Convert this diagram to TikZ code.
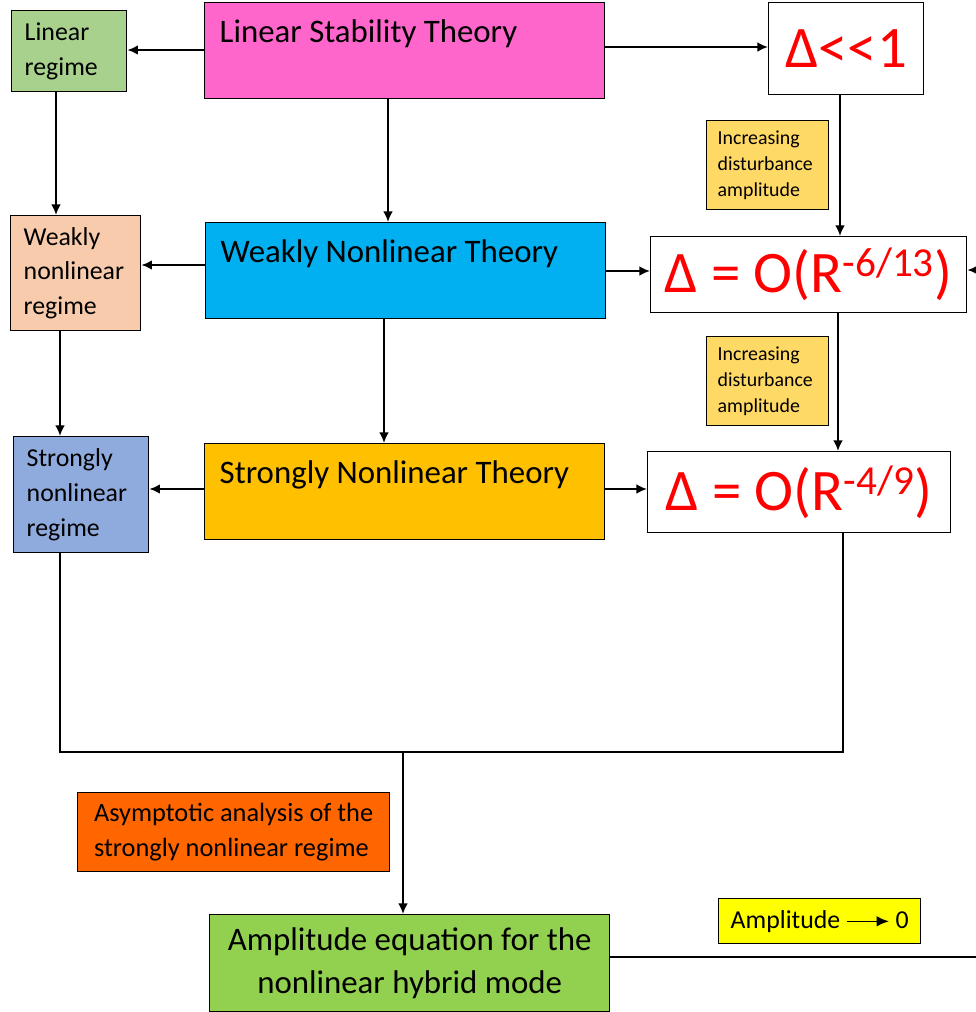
\documentclass[tikz,border=0pt]{standalone}
\usepackage{fontspec}
\setmainfont{Carlito}
\usepackage{tikz}
\usetikzlibrary{arrows.meta, positioning, calc}

\definecolor{lstpink}{HTML}{FF66CC}
\definecolor{wntblue}{HTML}{00B0F0}
\definecolor{sntorange}{HTML}{FFC000}
\definecolor{lingreen}{HTML}{A9D18E}
\definecolor{wnrpeach}{HTML}{F8CBAD}
\definecolor{snrblue}{HTML}{8FAADC}
\definecolor{incgold}{HTML}{FFD966}
\definecolor{asymorange}{HTML}{FF6600}
\definecolor{ampgreen}{HTML}{92D050}
\definecolor{ampyellow}{HTML}{FFFF00}

\begin{document}
\begin{tikzpicture}[
            x=0.02cm, y=-0.02cm,
            box/.style={draw=black, line width=0.8pt, anchor=north west, inner ysep=0pt},
            theory/.style={box, minimum width=8cm, text width=7.4cm, inner xsep=0.3cm, align=flush left, text height=0.8cm, text depth=1.12cm, font=\fontsize{18.7}{22}\selectfont},
            regime/.style={box, inner xsep=0.26cm, align=flush left, font=\fontsize{14.7}{19.8}\selectfont},
            delta/.style={box, fill=white, inner xsep=0pt, text=red, font=\fontsize{33.5}{36}\selectfont},
            incr/.style={box, fill=incgold, text width=2cm, inner xsep=0.22cm, minimum height=1.78cm, align=flush left, font=\fontsize{11.3}{14.7}\selectfont},
            line/.style={draw, line width=1.1pt, -{Latex[length=6pt, width=5.5pt]}},
            wire/.style={draw, line width=1.1pt}
        ]
        \useasboundingbox (0,0) rectangle (976,1012);

        % --- Theories ---
        \node[theory, fill=lstpink] (lst) at (204,2) {Linear Stability Theory};
        \node[theory, fill=wntblue] (wnt) at (205,222) {Weakly Nonlinear Theory};
        \node[theory, fill=sntorange] (snt) at (204,443) {Strongly Nonlinear Theory};

        % --- Regimes ---
        \node[regime, fill=lingreen, text width=1.78cm, minimum height=1.62cm] (lin) at (11,10) {Linear\\regime};
        \node[regime, fill=wnrpeach, text width=2.08cm, minimum height=2.3cm] (wnr) at (10,215) {Weakly\\nonlinear\\regime};
        \node[regime, fill=snrblue, text width=2.18cm, minimum height=2.32cm] (snr) at (13,436) {Strongly\\nonlinear\\regime};

        % --- Disturbance amplitudes ---
        \node[delta, minimum width=3.1cm, minimum height=1.84cm] (d1) at (768,2) {Δ<\kern0pt<1};
        \node[delta, minimum width=6.32cm, minimum height=1.52cm] (d2) at (650,236) {Δ = O(R\textsuperscript{-6/13})};
        \node[delta, minimum width=6.06cm, minimum height=1.62cm] (d3) at (647,451) {Δ = O(R\textsuperscript{-4/9})};
        \node[incr] (inc1) at (706,120) {Increasing\\disturbance\\amplitude};
        \node[incr] (inc2) at (706,336) {Increasing\\disturbance\\amplitude};

        % --- Bottom ---
        \node[box, fill=asymorange, minimum width=6.24cm, minimum height=1.58cm, align=left, font=\fontsize{15}{19.8}\selectfont] (asym) at (77,792) {Asymptotic analysis of the\\strongly nonlinear regime};
        \node[box, fill=ampgreen, minimum width=8cm, minimum height=1.94cm, align=center, font=\fontsize{18.7}{24.4}\selectfont] (amp) at (209,914) {Amplitude equation for the\\nonlinear hybrid mode};
        \node[box, fill=ampyellow, minimum width=4.04cm, minimum height=0.9cm, font=\fontsize{14.7}{18}\selectfont] (ampz) at (718,898) {Amplitude \tikz[baseline=-0.55ex]\draw[line width=0.9pt, -{Latex[length=7pt, width=6pt]}] (0,0) -- (0.84cm,0);\ 0};

        % --- Columns and rows for the connectors ---
        \coordinate (colA) at (56,0);
        \coordinate (colB) at (60,0);
        \coordinate (colC) at (388,0);
        \coordinate (colD) at (384,0);
        \coordinate (colE) at (840,0);
        \coordinate (colF) at (838,0);
        \coordinate (colG) at (843,0);
        \coordinate (colM) at (403,0);
        \coordinate (merge) at (0,752);
        \coordinate (edgeD) at (976,270);
        \coordinate (edgeA) at (976,957);

        % --- Arrows ---
        \draw[line] (lst.west |- 0,50) -- (lin.east |- 0,50);
        \draw[line] (lst.east |- 0,47) -- (d1.west |- 0,47);
        \draw[line] (lst.south -| colC) -- (wnt.north -| colC);
        \draw[line] (lin.south -| colA) -- (wnr.north -| colA);
        \draw[line] (d1.south -| colE) -- (d2.north -| colE);

        \draw[line] (wnt.west |- 0,265) -- (wnr.east |- 0,265);
        \draw[line] (wnt.east |- 0,271) -- (d2.west |- 0,271);
        \draw[line] (edgeD) -- (d2.east |- edgeD);
        \draw[line] (wnt.south -| colD) -- (snt.north -| colD);
        \draw[line] (wnr.south -| colB) -- (snr.north -| colB);
        \draw[line] (d2.south -| colF) -- (d3.north -| colF);

        \draw[line] (snt.west |- 0,489) -- (snr.east |- 0,489);
        \draw[line] (snt.east |- 0,489) -- (d3.west |- 0,489);

        % --- Merge into the amplitude equation ---
        \draw[wire] (snr.south -| colB) -- (colB |- merge) -- (merge -| colG) -- (d3.south -| colG);
        \draw[line] (merge -| colM) -- (amp.north -| colM);
        \draw[wire] (amp.east |- edgeA) -- (edgeA);

\end{tikzpicture}
\end{document}
